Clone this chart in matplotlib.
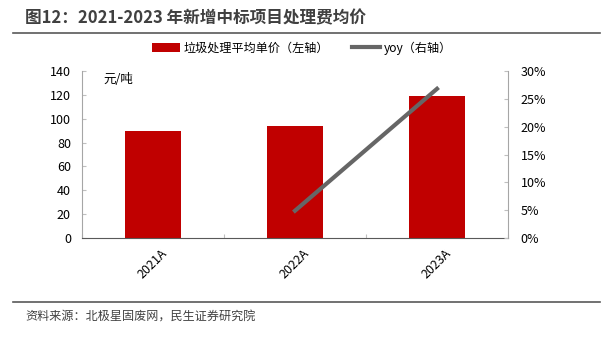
import matplotlib.pyplot as plt
from matplotlib.ticker import PercentFormatter

plt.rcParams['font.family'] = ['Noto Sans CJK SC', 'DejaVu Sans']

years = ['2021A', '2022A', '2023A']
price = [89.6, 94.0, 119.2]          # 元/吨
yoy_years = ['2022A', '2023A']
yoy = [4.9, 26.8]                    # %

fig = plt.figure(figsize=(6.11, 3.41), dpi=100)
ax = fig.add_axes([82 / 611, 1 - 238 / 341, 426 / 611, 167 / 341])
ax2 = ax.twinx()

x = list(range(len(years)))
bars = ax.bar(x, price, width=0.4, color='#c00000', label='垃圾处理平均单价（左轴）', zorder=2)
xi = [years.index(y) for y in yoy_years]
line, = ax2.plot(xi, yoy, color='#666666', lw=3, label='yoy（右轴）', zorder=3)

ax.set_xlim(-0.5, 2.5)
ax.set_ylim(0, 140)
ax.set_yticks(range(0, 141, 20))
ax2.set_ylim(0, 30)
ax2.set_yticks(range(0, 31, 5))
ax2.yaxis.set_major_formatter(PercentFormatter(decimals=0))

ax.set_xticks([-0.5, 0.5, 1.5, 2.5], minor=False)
ax.set_xticklabels([])
ax.set_xticks(x, minor=True)
ax.set_xticklabels(years, minor=True, rotation=45, ha='center', va='top', fontsize=9)
ax.tick_params(axis='x', which='major', length=3, direction='in', color='#bfbfbf')
ax.tick_params(axis='x', which='minor', length=0, pad=6)
ax.tick_params(axis='y', length=3, direction='in', color='#bfbfbf', labelsize=9, pad=8)
ax2.tick_params(axis='y', length=3, direction='in', color='#bfbfbf', labelsize=9, pad=9)

for a in (ax, ax2):
    a.spines['top'].set_visible(False)
    for s in ('left', 'right', 'bottom'):
        a.spines[s].set_color('#a6a6a6')
ax.spines['right'].set_visible(False)
ax2.spines['left'].set_visible(False)
ax2.spines['bottom'].set_visible(False)
ax.spines['bottom'].set_color('#595959')

ax.text(0.05, 0.99, '元/吨', transform=ax.transAxes, fontsize=9, va='top', ha='left')

fig.legend(handles=[bars, line], loc='center', bbox_to_anchor=(302 / 611, 1 - 48 / 341),
           ncol=2, frameon=False, fontsize=8.7, handlelength=2.3, handletextpad=0.3,
           columnspacing=1.9)

fig.text(25 / 611, 1 - 18 / 341, '图12：2021-2023 年新增中标项目处理费均价', fontsize=12,
         fontweight='bold', color='#404040', va='center', ha='left')
fig.add_artist(plt.Line2D([13 / 611, 600 / 611], [1 - 33 / 341] * 2, color='#595959', lw=1.2))
fig.add_artist(plt.Line2D([13 / 611, 600 / 611], [1 - 302 / 341] * 2, color='#595959', lw=1.2))
fig.text(25 / 611, 1 - 317 / 341, '资料来源：北极星固废网，民生证券研究院', fontsize=8.7,
         color='#404040', va='center', ha='left')

fig.savefig('out.png', dpi=100)
